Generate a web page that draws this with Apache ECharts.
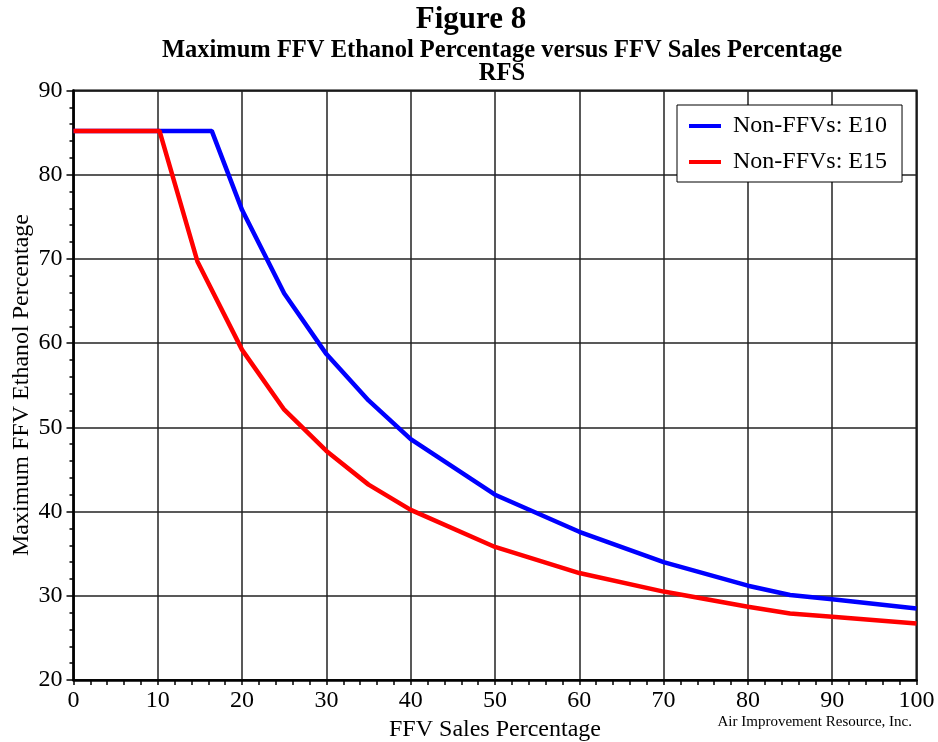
<!DOCTYPE html>
<html>
<head>
<meta charset="utf-8">
<style>html,body{margin:0;padding:0;background:#fff;}#c{width:938px;height:742px;}</style>
<script src="https://cdn.jsdelivr.net/npm/echarts@6/dist/echarts.min.js"></script>
</head>
<body>
<div id="c"></div>
<script>
var xTicks = [0, 10, 20, 30, 40, 50, 60, 70, 80, 90, 100];
var yTicks = [20, 30, 40, 50, 60, 70, 80, 90];
var xE10 = [0, 10, 16.4, 20, 25, 30, 35, 40, 50, 60, 70, 80, 85, 90, 100];
var yE10 = [85.2, 85.2, 85.2, 75.8, 65.9, 58.7, 53.2, 48.6, 42.0, 37.6, 34.0, 31.2, 30.1, 29.6, 28.5];
var xE15 = [0, 10.2, 14.7, 20, 25, 30, 35, 40, 50, 60, 70, 80, 85, 90, 100];
var yE15 = [85.2, 85.2, 69.7, 59.2, 52.1, 47.2, 43.2, 40.2, 35.8, 32.7, 30.5, 28.7, 27.9, 27.5, 26.7];
var seriesNames = ['Non-FFVs: E10', 'Non-FFVs: E15'];

function pairs(xs, ys) { return xs.map(function (x, i) { return [x, ys[i]]; }); }

var FONT = 'Liberation Serif';
var chart = echarts.init(document.getElementById('c'), null, {renderer: 'canvas'});
chart.setOption({
  animation: false,
  backgroundColor: '#fff',
  grid: {left: 73.5, right: 21.5, top: 90.5, bottom: 62, show: true, borderColor: '#000', borderWidth: 2,
    containLabel: false, outerBoundsMode: 'none'},
  legend: {
    data: seriesNames, orient: 'vertical', left: 677, top: 105,
    padding: [9, 15, 8, 12], itemGap: 12, itemWidth: 32, itemHeight: 4, icon: 'rect',
    backgroundColor: '#fff', borderColor: '#000', borderWidth: 1,
    textStyle: {fontFamily: FONT, fontSize: 24, color: '#000', padding: [0, 0, 0, 7]}
  },
  xAxis: {
    type: 'value', min: 0, max: 100, interval: 10,
    name: 'FFV Sales Percentage', nameLocation: 'middle', nameGap: 36,
    nameTextStyle: {fontFamily: FONT, fontSize: 24, color: '#000'},
    axisLine: {show: true, lineStyle: {color: '#000', width: 2.5}},
    axisTick: {show: true, inside: false, length: 5, lineStyle: {color: '#000', width: 1.5}},
    minorTick: {show: true, splitNumber: 5, length: 5, lineStyle: {color: '#000', width: 1.5}},
    axisLabel: {fontFamily: FONT, fontSize: 24, color: '#000', margin: 9,
      formatter: function (v) { return xTicks.indexOf(v) >= 0 ? String(v) : ''; }},
    splitLine: {show: true, lineStyle: {color: '#222', width: 1.5}}
  },
  yAxis: {
    type: 'value', min: 20, max: 90, interval: 10,
    axisLine: {show: true, lineStyle: {color: '#000', width: 2.5}},
    axisTick: {show: true, inside: false, length: 7, lineStyle: {color: '#000', width: 1.5}},
    minorTick: {show: true, splitNumber: 5, length: 4, lineStyle: {color: '#000', width: 1.5}},
    axisLabel: {fontFamily: FONT, fontSize: 24, color: '#000', margin: 11,
      formatter: function (v) { return yTicks.indexOf(v) >= 0 ? String(v) : ''; }},
    splitLine: {show: true, lineStyle: {color: '#222', width: 1.5}}
  },
  graphic: [
    {type: 'text', x: 471, y: 19.5, style: {text: 'Figure 8', fontFamily: FONT, fontWeight: 'bold', fontSize: 31, fill: '#000', align: 'center', verticalAlign: 'middle'}},
    {type: 'text', x: 502, y: 50.5, style: {text: 'Maximum FFV Ethanol Percentage versus FFV Sales Percentage', fontFamily: FONT, fontWeight: 'bold', fontSize: 24.5, fill: '#000', align: 'center', verticalAlign: 'middle'}},
    {type: 'text', x: 502, y: 74, style: {text: 'RFS', fontFamily: FONT, fontWeight: 'bold', fontSize: 24.5, fill: '#000', align: 'center', verticalAlign: 'middle'}},
    {type: 'text', x: 22, y: 385, rotation: Math.PI / 2, style: {text: 'Maximum FFV Ethanol Percentage', fontFamily: FONT, fontSize: 24, fill: '#000', align: 'center', verticalAlign: 'middle'}},
    {type: 'text', x: 912, y: 722, style: {text: 'Air Improvement Resource, Inc.', fontFamily: FONT, fontSize: 15, fill: '#000', align: 'right', verticalAlign: 'middle'}}
  ],
  series: [
    {name: seriesNames[0], type: 'line', data: pairs(xE10, yE10), showSymbol: false, symbol: 'none',
      lineStyle: {color: '#0000ff', width: 4.5}, itemStyle: {color: '#0000ff'}, z: 3},
    {name: seriesNames[1], type: 'line', data: pairs(xE15, yE15), showSymbol: false, symbol: 'none',
      lineStyle: {color: '#ff0000', width: 4.5}, itemStyle: {color: '#ff0000'}, z: 4}
  ]
});
</script>
</body>
</html>
